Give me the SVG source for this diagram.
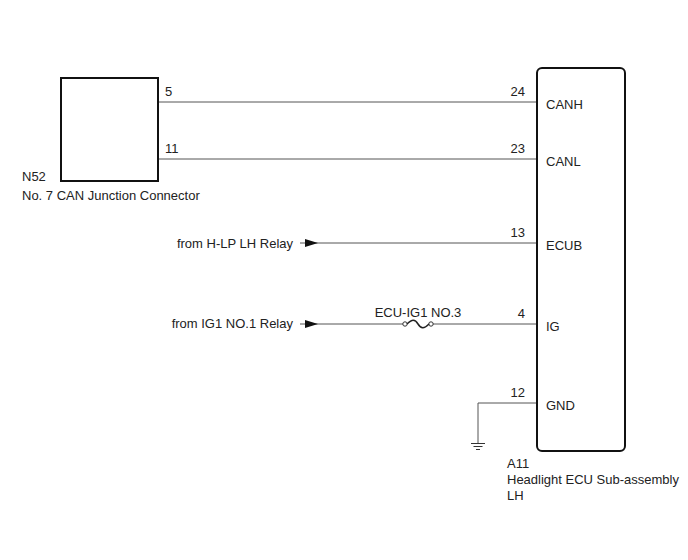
<svg xmlns="http://www.w3.org/2000/svg" width="688" height="560" viewBox="0 0 688 560">
<style>
text{font-family:"Liberation Sans",Arial,sans-serif;font-size:13px;fill:#222}
.r{text-anchor:end}
.m{text-anchor:middle}
.w{stroke:#555;stroke-width:1;fill:none}
.box{stroke:#111;stroke-width:2;fill:#fff}
</style>
<rect width="688" height="560" fill="#fff"/>
<g id="connectors">
<path class="w" d="M158,102 H537"/>
<path class="w" d="M158,159 H537"/>
<path class="w" d="M300,243 H537"/>
<path d="M305,239 L318,243 L305,247 Z" fill="#111"/>
<path class="w" d="M300,324 H403"/>
<path d="M305,320 L318,324 L305,328 Z" fill="#111"/>
<path class="w" d="M432,324 H537"/>
<path class="w" d="M478,403 H537 M478,403 V443"/>
<g id="fuse">
<circle cx="405" cy="324" r="2.2" fill="#fff" stroke="#333" stroke-width="1"/>
<circle cx="431" cy="324" r="2.2" fill="#fff" stroke="#333" stroke-width="1"/>
<path d="M407,324 C412,319 415,319 418,324 C421,329 424,329 429,324" fill="none" stroke="#222" stroke-width="1.5"/>
</g>
<g id="ground">
<path d="M471,443.5 H485 M473.5,446.5 H482.5 M476,449.5 H480" stroke="#333" stroke-width="1.2"/>
</g>
<text x="165" y="96">5</text>
<text x="165" y="153">11</text>
<text class="r" x="525" y="96">24</text>
<text class="r" x="525" y="153">23</text>
<text class="r" x="525" y="237">13</text>
<text class="r" x="525" y="318">4</text>
<text class="r" x="525" y="397">12</text>
<text class="m" x="418" y="317">ECU-IG1 NO.3</text>
<text class="r" x="293" y="248">from H-LP LH Relay</text>
<text class="r" x="293" y="328">from IG1 NO.1 Relay</text>
</g>
<g id="N52">
<rect class="box" x="61" y="78" width="97" height="103"/>
<text x="22" y="181">N52</text>
<text x="22" y="200">No. 7 CAN Junction Connector</text>
</g>
<g id="A11">
<rect class="box" x="537" y="68" width="88" height="383" rx="5"/>
<text x="546" y="109">CANH</text>
<text x="546" y="166">CANL</text>
<text x="546" y="250">ECUB</text>
<text x="546" y="331">IG</text>
<text x="546" y="410">GND</text>
<text x="507" y="468">A11</text>
<text x="507" y="484">Headlight ECU Sub-assembly</text>
<text x="507" y="500">LH</text>
</g>
</svg>
